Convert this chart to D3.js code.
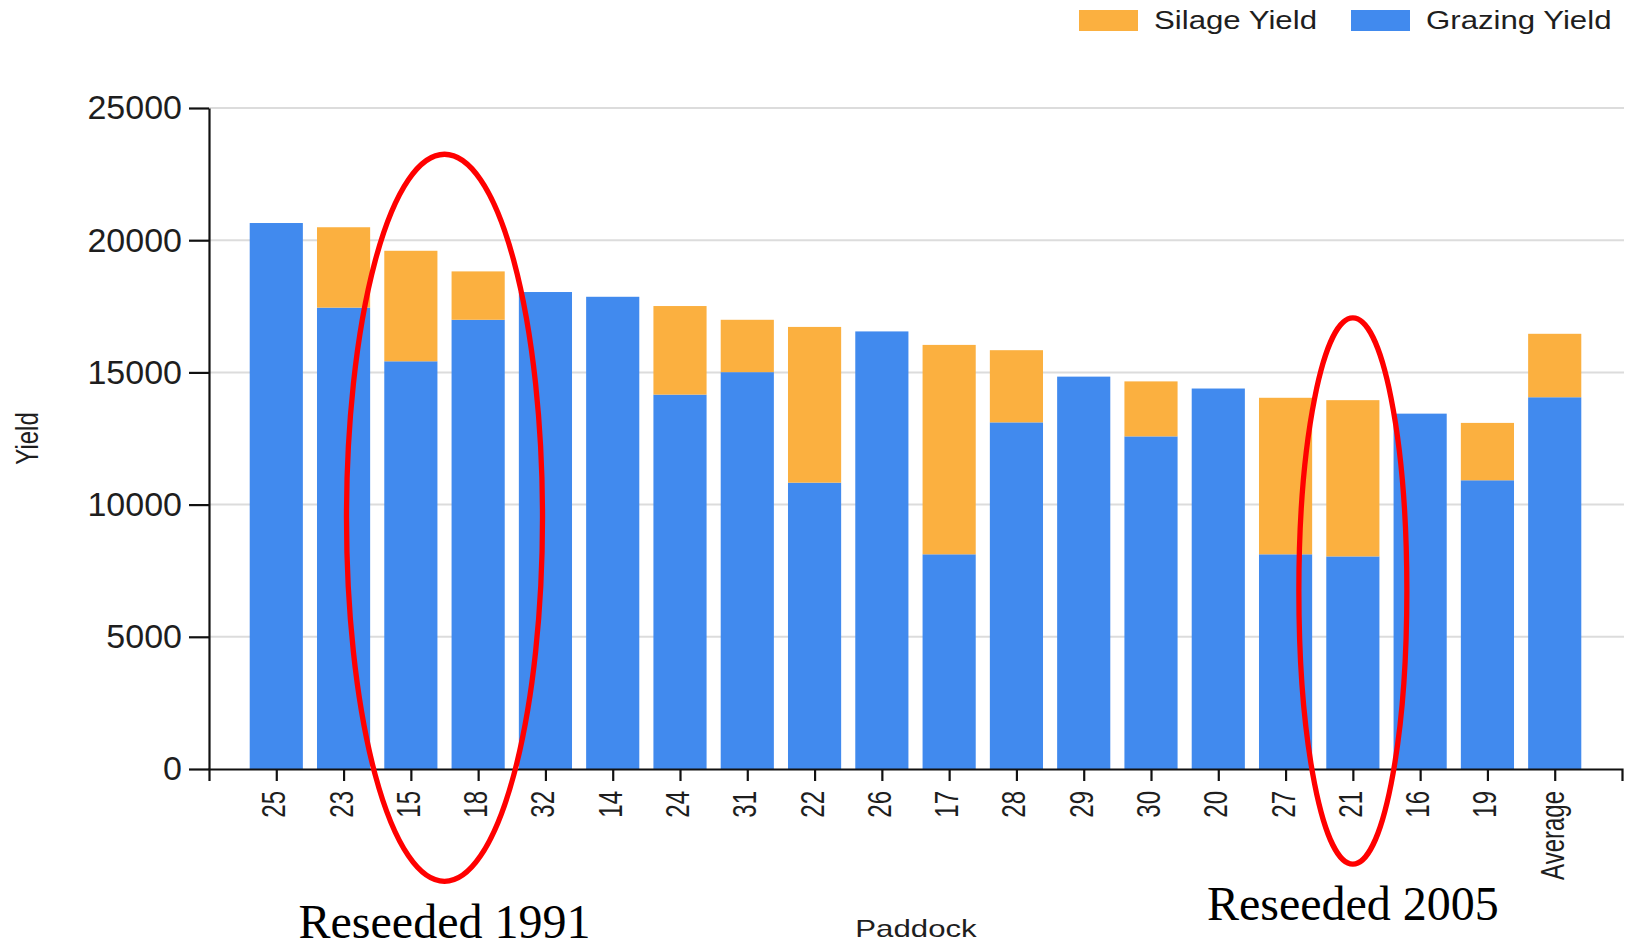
<!DOCTYPE html>
<html>
<head>
<meta charset="utf-8">
<script src="https://cdn.jsdelivr.net/npm/d3@7"></script>
<style>
  body { margin: 0; background: #fff; }
  text { font-family: "Liberation Sans", Arial, sans-serif; fill: #1e1e1e; }
</style>
</head>
<body>
<div id="chart"></div>
<script>
// paddocks in chart order
var paddocks = ["25", "23", "15", "18", "32", "14", "24", "31", "22", "26",
  "17", "28", "29", "30", "20", "27", "21", "16", "19", "Average"]
var grazing = [20650, 17450, 15420, 16990, 18040, 17860, 14160, 15010, 10830, 16550,
  8120, 13110, 14840, 12580, 14390, 8120, 8040, 13440, 10920, 14060]
var silage = [0, 3040, 4180, 1830, 0, 0, 3350, 1980, 5890, 0,
  7920, 2730, 0, 2080, 0, 5920, 5910, 0, 2170, 2400]
var yTicks = [0, 5000, 10000, 15000, 20000, 25000]

// red circles drawn over the chart
var notes = [
  { from: "15", to: "18", top: 23250, bottom: -4250, rx: 98, label: "Reseeded 1991", labelY: 938 },
  { from: "21", to: "21", top: 17060, bottom: -3600, rx: 54, label: "Reseeded 2005", labelY: 920 }
]

var width = 1630, height = 948
var plotLeft = 209, plotRight = 1622, plotTop = 108, plotBottom = 769

var svg = d3.select("#chart").append("svg")
  .attr("width", width)
  .attr("height", height)

var x = d3.scalePoint().domain(paddocks).range([plotLeft, plotRight]).padding(1)
var y = d3.scaleLinear().domain([0, 25000]).range([plotBottom, plotTop])
var barW = x.step() * 0.79

var rows = paddocks.map(function(p, i) {
  return { paddock: p, grazing: grazing[i], silage: silage[i] }
})
var stack = d3.stack().keys(["grazing", "silage"])(rows)
var colors = { grazing: "#418aee", silage: "#fbb040" }

// gridlines
svg.append("g")
  .selectAll("line")
  .data(yTicks.filter(function(d) { return d > 0 }))
  .enter().append("line")
  .attr("x1", plotLeft).attr("x2", 1624)
  .attr("y1", function(d) { return y(d) })
  .attr("y2", function(d) { return y(d) })
  .attr("stroke", "#dcdcdc")
  .attr("stroke-width", 2)

// bars
svg.append("g")
  .selectAll("g")
  .data(stack)
  .enter().append("g")
  .attr("fill", function(d) { return colors[d.key] })
  .selectAll("rect")
  .data(function(d) { return d.filter(function(s) { return s[1] > s[0] }) })
  .enter().append("rect")
  .attr("x", function(d) { return x(d.data.paddock) - barW / 2 })
  .attr("width", barW)
  .attr("y", function(d) { return y(d[1]) })
  .attr("height", function(d) { return y(d[0]) - y(d[1]) })

// axes
var yAxis = svg.append("g")
  .attr("transform", "translate(" + plotLeft + ",0)")
  .call(d3.axisLeft(y).tickValues(yTicks).tickFormat(d3.format("d"))
    .tickSize(20).tickSizeOuter(0).tickPadding(7))
yAxis.selectAll("text")
  .style("font-size", "34px")
  .style("font-family", "Liberation Sans, Arial, sans-serif")
  .attr("fill", "#1e1e1e")

var xAxis = svg.append("g")
  .attr("transform", "translate(0," + plotBottom + ")")
  .call(d3.axisBottom(x).tickSize(12).tickSizeOuter(12))
xAxis.selectAll(".tick text")
  .style("font-size", "24px")
  .style("font-family", "Liberation Sans, Arial, sans-serif")
  .attr("fill", "#1e1e1e")
  .attr("text-anchor", "end")
  .attr("dominant-baseline", "middle")
  .attr("dy", null)
  .attr("y", 0)
  .attr("x", 0)
  .attr("transform", "translate(0,22) rotate(-90) scale(1,1.35)")

svg.selectAll(".domain, .tick line")
  .attr("stroke", "#111")
  .attr("stroke-width", 2.2)

// axis titles
svg.append("text")
  .attr("transform", "translate(38," + (plotTop + plotBottom) / 2 + ") rotate(-90) scale(1,1.3)")
  .attr("text-anchor", "middle")
  .style("font-size", "24px")
  .text("Yield")

svg.append("text")
  .attr("transform", "translate(916,937) scale(1.3,1)")
  .attr("text-anchor", "middle")
  .style("font-size", "24px")
  .text("Paddock")

// legend
var legend = [
  { key: "silage", name: "Silage Yield", x: 1079 },
  { key: "grazing", name: "Grazing Yield", x: 1351 }
]
var lg = svg.append("g").selectAll("g")
  .data(legend)
  .enter().append("g")
  .attr("transform", function(d) { return "translate(" + d.x + ",10)" })
lg.append("rect")
  .attr("width", 59)
  .attr("height", 21)
  .attr("fill", function(d) { return colors[d.key] })
lg.append("text")
  .attr("transform", "translate(75,12) scale(1.2,1)")
  .attr("dominant-baseline", "middle")
  .style("font-size", "26px")
  .text(function(d) { return d.name })

// annotations
var ann = svg.append("g").selectAll("g")
  .data(notes)
  .enter().append("g")
ann.append("ellipse")
  .attr("cx", function(d) { return (x(d.from) + x(d.to)) / 2 })
  .attr("cy", function(d) { return (y(d.top) + y(d.bottom)) / 2 })
  .attr("rx", function(d) { return d.rx })
  .attr("ry", function(d) { return (y(d.bottom) - y(d.top)) / 2 })
  .attr("fill", "none")
  .attr("stroke", "#ff0000")
  .attr("stroke-width", 5.3)
ann.append("text")
  .attr("x", function(d) { return (x(d.from) + x(d.to)) / 2 })
  .attr("y", function(d) { return d.labelY })
  .attr("text-anchor", "middle")
  .style("font-family", "Liberation Serif, 'Times New Roman', serif")
  .style("font-size", "48px")
  .style("fill", "#000")
  .text(function(d) { return d.label })
</script>
</body>
</html>
